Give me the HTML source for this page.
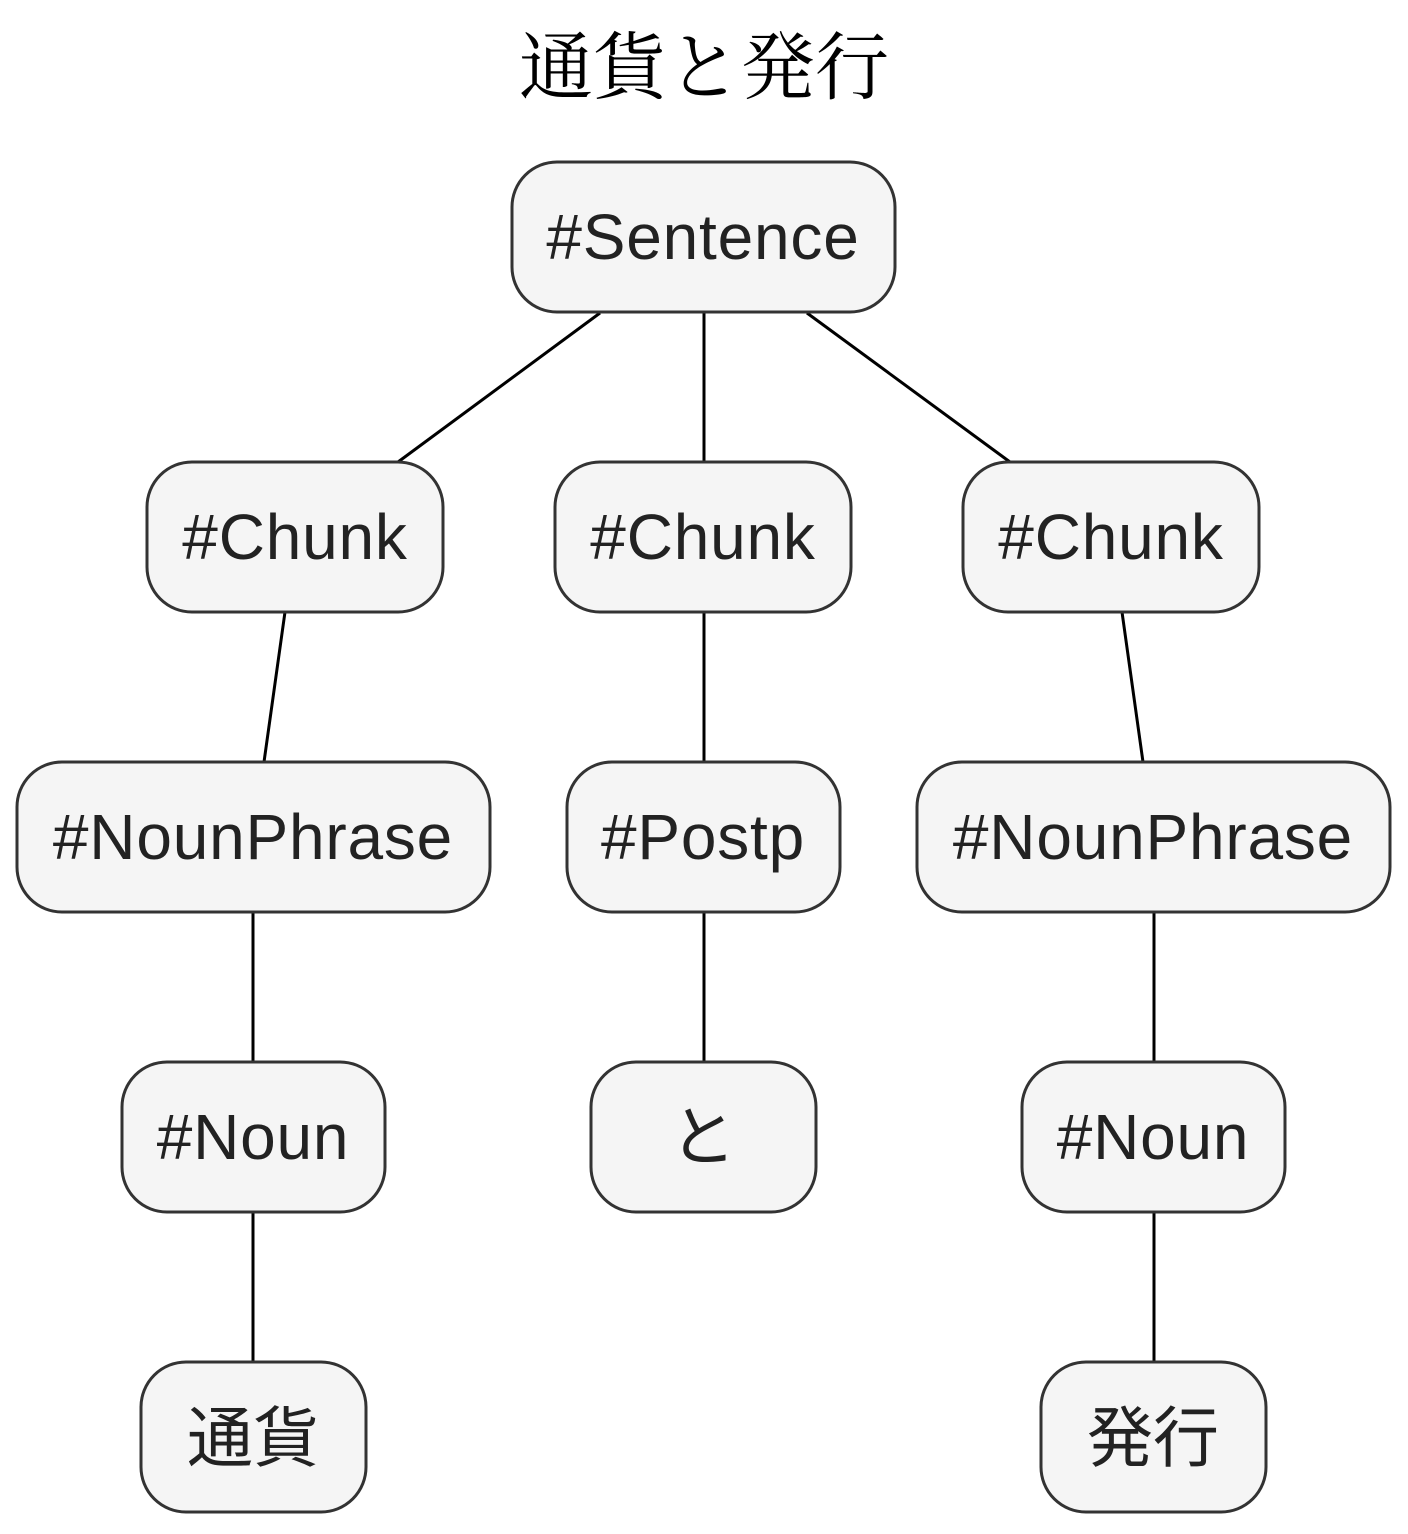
<!DOCTYPE html>
<html><head><meta charset="utf-8"><style>html,body{margin:0;padding:0;background:#fff}</style></head>
<body>
<svg width="1408" height="1529" viewBox="0 0 1408 1529" xmlns="http://www.w3.org/2000/svg">
<rect width="1408" height="1529" fill="#fff"/>
<text x="704" y="93" text-anchor="middle" font-family="'Liberation Serif','Noto Serif CJK SC',serif" font-size="74" fill="#000">通貨と発行</text>
<g stroke="#000" stroke-width="3">
<line x1="600" y1="313" x2="398" y2="462"/>
<line x1="704" y1="313" x2="704" y2="462"/>
<line x1="807" y1="313" x2="1010" y2="462"/>
<line x1="285" y1="612" x2="264" y2="762"/>
<line x1="704" y1="612" x2="704" y2="762"/>
<line x1="1122" y1="612" x2="1143" y2="762"/>
<line x1="253" y1="912" x2="253" y2="1062"/>
<line x1="704" y1="912" x2="704" y2="1062"/>
<line x1="1154" y1="912" x2="1154" y2="1062"/>
<line x1="253" y1="1212" x2="253" y2="1362"/>
<line x1="1154" y1="1212" x2="1154" y2="1362"/>
</g>
<g fill="#f5f5f5" stroke="#333" stroke-width="3">
<rect x="512" y="162" width="383" height="150" rx="45"/>
<rect x="147" y="462" width="296" height="150" rx="45"/>
<rect x="555" y="462" width="296" height="150" rx="45"/>
<rect x="963" y="462" width="296" height="150" rx="45"/>
<rect x="17" y="762" width="473" height="150" rx="45"/>
<rect x="567" y="762" width="273" height="150" rx="45"/>
<rect x="917" y="762" width="473" height="150" rx="45"/>
<rect x="122" y="1062" width="263" height="150" rx="45"/>
<rect x="591" y="1062" width="225" height="150" rx="45"/>
<rect x="1022" y="1062" width="263" height="150" rx="45"/>
<rect x="141" y="1362" width="225" height="150" rx="45"/>
<rect x="1041" y="1362" width="225" height="150" rx="45"/>
</g>
<g font-family="'Liberation Sans','Noto Sans CJK JP',sans-serif" font-size="64" fill="#222" text-anchor="middle" letter-spacing="0.8">
<text x="703" y="259">#Sentence</text>
<text x="295" y="559">#Chunk</text>
<text x="703" y="559">#Chunk</text>
<text x="1111" y="559">#Chunk</text>
<text x="253" y="859">#NounPhrase</text>
<text x="703" y="859">#Postp</text>
<text x="1153" y="859">#NounPhrase</text>
<text x="253" y="1159">#Noun</text>
<text x="1153" y="1159">#Noun</text>
</g>
<g font-family="'Liberation Sans','Noto Sans CJK JP',sans-serif" font-size="66" fill="#222" text-anchor="middle">
<text x="703" y="1160">と</text>
<text x="253" y="1461">通貨</text>
<text x="1153" y="1461">発行</text>
</g>
</svg>
</body></html>
